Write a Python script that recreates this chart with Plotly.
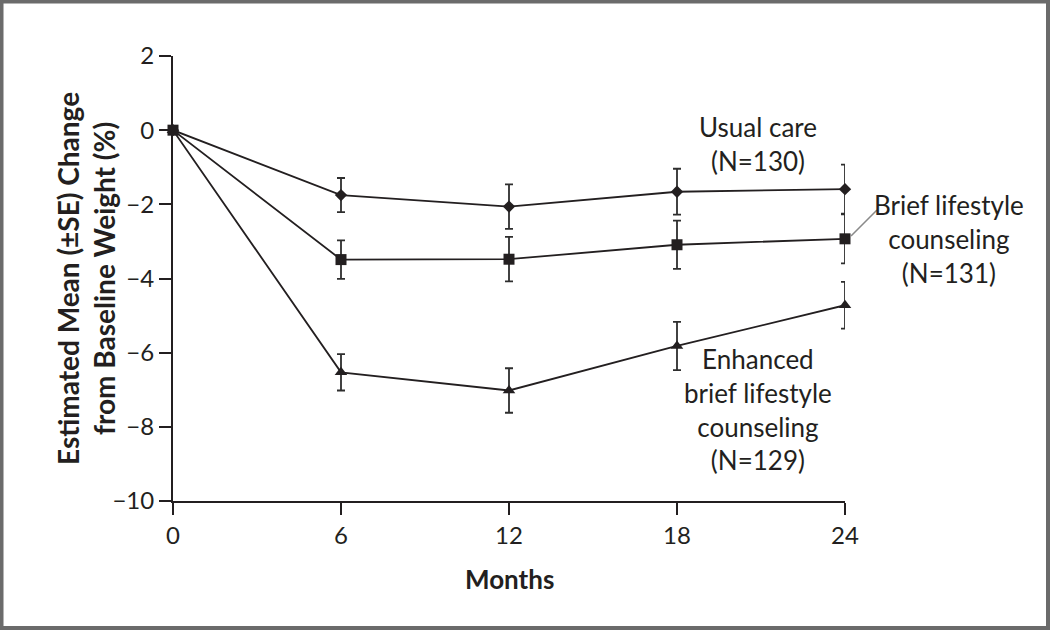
import plotly.graph_objects as go

# ---- data ----
months = [0, 6, 12, 18, 24]
usual = [0, -1.75, -2.06, -1.66, -1.59]
usual_se = [None, 0.46, 0.60, 0.62, 0.66]
brief = [0, -3.49, -3.48, -3.09, -2.93]
brief_se = [None, 0.52, 0.60, 0.65, 0.66]
enhanced = [0, -6.53, -7.02, -5.82, -4.72]
enhanced_se = [None, 0.49, 0.60, 0.65, 0.63]

x_ticks = [0, 6, 12, 18, 24]
y_ticks = [2, 0, -2, -4, -6, -8, -10]

INK = "#231f20"
FONT = "Lato"
W, H = 1050, 630
L, R, T, B = 173, 845, 56, 501  # plot area in pixels


def px(xp):
    return (xp - L) / (R - L)


def py(yp):
    return (B - yp) / (B - T)


def series(x, y, se, symbol, size, name):
    return go.Scatter(
        x=x, y=y, name=name, mode="lines+markers",
        line=dict(color=INK, width=1.8),
        marker=dict(symbol=symbol, size=size, color=INK, line=dict(width=0)),
        error_y=dict(type="data", array=se, visible=True, color="#2e2e2e",
                     thickness=1.8, width=4),
        cliponaxis=False, showlegend=False,
    )


fig = go.Figure()
fig.add_trace(series(months, usual, usual_se, "diamond", 9.5, "Usual care"))
fig.add_trace(series(months, enhanced, enhanced_se, "triangle-up", 11,
                     "Enhanced brief lifestyle counseling"))
fig.add_trace(series(months, brief, brief_se, "square", 11,
                     "Brief lifestyle counseling"))

axis_common = dict(
    showgrid=False, zeroline=False, showline=True, linecolor=INK, linewidth=2,
    ticks="outside", ticklen=12, tickwidth=2, tickcolor=INK,
    tickfont=dict(family=FONT, size=24, color=INK),
)

fig.update_xaxes(range=[0, 24], tickvals=x_ticks, **axis_common)
fig.update_yaxes(range=[-10, 2], tickvals=y_ticks, **axis_common)

font_txt = dict(family=FONT, size=26, color=INK)
font_bold = dict(family=FONT, size=26, color=INK, weight="bold")
font_ytitle = dict(family=FONT, size=28, color=INK, weight="bold")

annotations = [
    dict(text="Usual care<br>(N=130)", x=px(758), y=py(144)),
    dict(text="Brief lifestyle<br>counseling<br>(N=131)", x=px(949), y=py(239)),
    dict(text="Enhanced<br>brief lifestyle<br>counseling<br>(N=129)",
         x=px(758), y=py(409)),
]
for a in annotations:
    fig.add_annotation(xref="paper", yref="paper", showarrow=False,
                       xanchor="center", yanchor="middle", align="center",
                       font=font_txt, **a)

fig.add_annotation(text="<b>Months</b>", xref="paper", yref="paper",
                   x=px(509), y=py(579), showarrow=False,
                   xanchor="center", yanchor="middle", font=font_bold)
fig.add_annotation(text="<b>Estimated Mean (±SE) Change<br>from Baseline Weight (%)</b>",
                   xref="paper", yref="paper", x=px(86), y=py(278),
                   showarrow=False, textangle=-90, xanchor="center",
                   yanchor="middle", align="center", font=font_ytitle)

# leader line from the last square to its label
fig.add_shape(type="line", xref="paper", yref="paper",
              x0=px(851), y0=py(236), x1=px(877), y1=py(210),
              line=dict(color="#8a8a8a", width=1.6))

# outer frame
fig.add_shape(type="rect", xref="paper", yref="paper",
              x0=px(1.5), y0=py(1.5), x1=px(W - 2), y1=py(H - 2),
              line=dict(color="#6b6b6b", width=4), fillcolor="rgba(0,0,0,0)",
              layer="above")

fig.update_layout(
    width=W, height=H,
    margin=dict(l=L, r=W - R, t=T, b=H - B),
    paper_bgcolor="white", plot_bgcolor="white",
    font=dict(family=FONT, color=INK),
)

fig.write_html("out.html", config={"displayModeBar": False},
               post_script="document.body.style.margin='0';document.body.style.padding='0';")
